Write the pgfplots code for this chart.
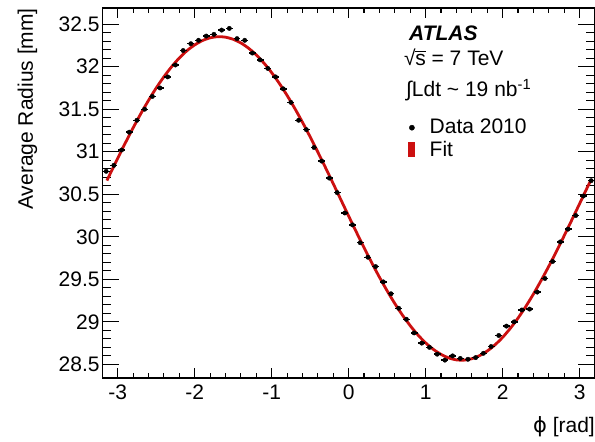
\documentclass[border=0pt]{standalone}
\usepackage{fontspec}
\setmainfont{Liberation Sans}
\newfontfamily\symfont{DejaVu Sans}
\usepackage{pgfplots}
\pgfplotsset{compat=1.18}
\definecolor{fitred}{RGB}{204,16,16}
\newcommand\lbl{\fontsize{21}{25}\selectfont}
% square root of s built from the text font
\newcommand\sqrts{√\kern-0.4pt\rlap{\rule[13.6pt]{10.5pt}{1.1pt}}s}

% common frame of both axes (units: 1pt = 1 output pixel)
\pgfplotsset{
  beampipe frame/.style={
    scale only axis,
    width=492.7pt, height=370pt,
    at={(102.3pt,64pt)}, anchor=south west,
    xmin=-3.2, xmax=3.2, ymin=28.34, ymax=32.69,
    axis line style={line width=1.2pt, black},
    tick style={line width=1.1pt, black},
    tick align=inside,
    /pgf/number format/assume math mode=true,
    tick label style={font=\lbl},
  }
}

\begin{document}
\begin{tikzpicture}
\useasboundingbox (0pt,0pt) rectangle (595pt,442pt);

% x ticks (shorter tick marks)
\begin{axis}[beampipe frame,
  ytick=\empty,
  xtick={-3,-2,-1,0,1,2,3},
  minor x tick num=4,
  major tick length=10pt, minor tick length=5pt,
  xticklabel style={anchor=north, inner sep=0pt, yshift=-7pt},
  xlabel={{\symfont ϕ} [rad]},
  every axis x label/.style={at={(axis description cs:1,-0.1486)}, anchor=base east, inner sep=0pt, font=\lbl},
]
\end{axis}

% data, fit and y ticks
\begin{axis}[beampipe frame,
  xtick=\empty,
  ytick={28.5,29,29.5,30,30.5,31,31.5,32,32.5},
  minor y tick num=4,
  major tick length=17pt, minor tick length=8.5pt,
  yticklabel style={anchor=east, inner sep=0pt, xshift=-2.5pt},
  ylabel={Average Radius [mm]},
  every axis y label/.style={at={(axis description cs:-0.1407,1)}, rotate=90, anchor=base east, inner sep=0pt, font=\lbl},
  legend style={at={(axis description cs:0.6205,0.7027)}, anchor=north west,
    draw=none, fill=none, inner sep=0pt, font=\lbl,
    row sep=8pt, column sep=15pt,
    cells={anchor=base west},
    nodes={inner sep=0pt, text depth=0pt, text height=15pt}},
]
\addlegendimage{legend image code/.code={\fill[black] (4pt,5.5pt) circle (2.6pt);}}
\addlegendentry{Data 2010}
\addlegendimage{legend image code/.code={\fill[fitred] (0.5pt,0pt) rectangle (6.5pt,14pt);}}
\addlegendentry{Fit}

% fitted radius
\addplot[fitred, line width=2.8pt, smooth, forget plot] coordinates {
(-3.14,30.661) (-3.1,30.737) (-3.0,30.923) (-2.9,31.105) (-2.8,31.280) (-2.7,31.447)
(-2.6,31.603) (-2.5,31.749) (-2.4,31.881) (-2.3,31.999) (-2.2,32.102) (-2.1,32.188)
(-2.0,32.256) (-1.9,32.307) (-1.8,32.339) (-1.7,32.353) (-1.6,32.347) (-1.5,32.322)
(-1.4,32.279) (-1.3,32.217) (-1.2,32.138) (-1.1,32.042) (-1.0,31.930) (-0.9,31.803)
(-0.8,31.663) (-0.7,31.510) (-0.6,31.347) (-0.5,31.175) (-0.4,30.996) (-0.3,30.812)
(-0.2,30.624) (-0.1,30.434) (0,30.244) (0.1,30.056) (0.2,29.872) (0.3,29.695)
(0.4,29.525) (0.5,29.365) (0.6,29.215) (0.7,29.078) (0.8,28.955) (0.9,28.846)
(1.0,28.753) (1.1,28.677) (1.2,28.618) (1.3,28.576) (1.4,28.553) (1.5,28.550)
(1.6,28.567) (1.7,28.603) (1.8,28.657) (1.9,28.729) (2.0,28.818) (2.1,28.924)
(2.2,29.044) (2.3,29.179) (2.4,29.327) (2.5,29.486) (2.6,29.654) (2.7,29.830)
(2.8,30.013) (2.9,30.200) (3.0,30.389) (3.1,30.580) (3.14,30.655)
};

% measured average radius per phi bin
\addplot[black, only marks, mark=*, mark size=2.2pt, forget plot,
  error bars/.cd, x dir=both, x fixed=0.045, y dir=both, y fixed=0.015,
  error mark=none, error bar style={line width=1.4pt, black}]
coordinates {
(-3.15,30.77) (-3.05,30.84) (-2.95,31.02) (-2.85,31.23) (-2.75,31.37) (-2.65,31.50)
(-2.55,31.65) (-2.45,31.75) (-2.35,31.88) (-2.25,32.02) (-2.15,32.19) (-2.05,32.27)
(-1.95,32.31) (-1.85,32.36) (-1.75,32.38) (-1.65,32.43) (-1.55,32.45) (-1.45,32.33)
(-1.35,32.31) (-1.25,32.16) (-1.15,32.08) (-1.05,31.98) (-0.95,31.88) (-0.85,31.74)
(-0.75,31.58) (-0.65,31.37) (-0.55,31.26) (-0.45,31.05) (-0.35,30.89) (-0.25,30.69)
(-0.15,30.52) (-0.05,30.28) (0.05,30.14) (0.15,29.93) (0.25,29.76) (0.35,29.65)
(0.45,29.47) (0.55,29.33) (0.65,29.16) (0.75,29.03) (0.85,28.87) (0.95,28.75)
(1.05,28.70) (1.15,28.62) (1.25,28.55) (1.35,28.60) (1.45,28.57) (1.55,28.56)
(1.65,28.58) (1.75,28.63) (1.85,28.71) (1.95,28.84) (2.05,28.95) (2.15,29.00)
(2.25,29.14) (2.35,29.15) (2.45,29.35) (2.55,29.51) (2.65,29.71) (2.75,29.94)
(2.85,30.09) (2.95,30.25) (3.05,30.48) (3.15,30.66)
};
\end{axis}

% experiment label
\node[anchor=base west, inner sep=0pt, font=\lbl\bfseries\itshape] at (409pt,401pt) {ATLAS};
\node[anchor=base west, inner sep=0pt, font=\lbl] at (404pt,376.5pt) {\sqrts{} = 7 TeV};
\node[anchor=base west, inner sep=0pt, font=\lbl] at (406pt,345pt) {∫Ldt \textasciitilde{} 19 nb\textsuperscript{-1}};
\end{tikzpicture}
\end{document}
